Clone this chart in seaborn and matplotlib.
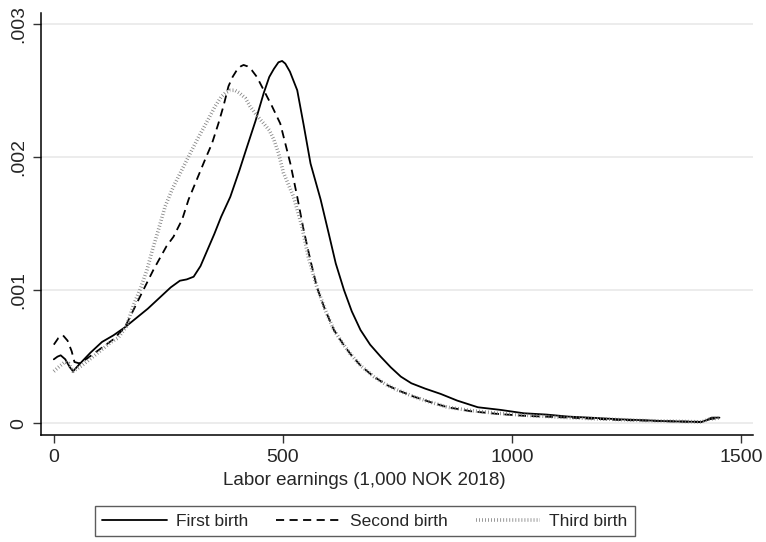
import pandas as pd
import matplotlib.pyplot as plt
import seaborn as sns

# density curves (x in 1,000 NOK, y in 1e-3)
first_x = [0, 8, 15, 25, 35, 42, 55, 80, 105, 130, 155, 180, 205, 230, 255, 275, 290, 305, 320, 335,
           350, 365, 385, 405, 420, 440, 458, 470, 480, 490, 498, 505, 515, 531, 545, 560, 582, 600, 615, 633,
           650, 669, 690, 713, 735, 757, 780, 810, 844, 880, 925, 975, 1025, 1075, 1122, 1180, 1231, 1290, 1340, 1380,
           1413, 1425, 1435, 1452]
first_y = [0.48, 0.50, 0.51, 0.48, 0.42, 0.39, 0.44, 0.53, 0.61, 0.66, 0.72, 0.79, 0.86, 0.94, 1.02, 1.07, 1.08, 1.10, 1.18, 1.30,
           1.42, 1.55, 1.70, 1.90, 2.06, 2.27, 2.48, 2.60, 2.66, 2.71, 2.72, 2.70, 2.64, 2.50, 2.24, 1.95, 1.68, 1.42, 1.20, 1.00,
           0.84, 0.70, 0.59, 0.50, 0.42, 0.35, 0.30, 0.26, 0.22, 0.17, 0.12, 0.10, 0.075, 0.065, 0.05, 0.04, 0.03, 0.022, 0.015, 0.012,
           0.01, 0.025, 0.042, 0.042]

second_x = [0, 10, 20, 30, 39, 45, 55, 70, 90, 110, 130, 155, 188, 217, 246, 261, 280, 294, 312, 330,
            345, 359, 370, 381, 390, 399, 408, 414, 422, 432, 443, 458, 476, 494, 516, 531, 545, 560, 574, 592,
            611, 630, 647, 670, 698, 725, 749, 785, 820, 859, 910, 968, 1030, 1106, 1170, 1230, 1290, 1340, 1380, 1413,
            1430, 1452]
second_y = [0.59, 0.64, 0.66, 0.62, 0.54, 0.46, 0.45, 0.48, 0.53, 0.58, 0.63, 0.72, 0.95, 1.15, 1.33, 1.40, 1.53, 1.68, 1.83, 1.98,
            2.10, 2.25, 2.38, 2.53, 2.60, 2.65, 2.68, 2.69, 2.68, 2.65, 2.60, 2.50, 2.38, 2.25, 1.95, 1.70, 1.45, 1.22, 1.02, 0.85,
            0.70, 0.60, 0.52, 0.43, 0.35, 0.29, 0.25, 0.20, 0.16, 0.12, 0.09, 0.07, 0.055, 0.045, 0.035, 0.025, 0.02, 0.015, 0.012, 0.01,
            0.03, 0.04]

third_x = [0, 10, 24, 32, 42, 60, 93, 125, 140, 159, 173, 190, 203, 215, 228, 243, 260, 279, 298, 316,
           335, 352, 365, 374, 385, 395, 405, 418, 428, 443, 458, 470, 480, 490, 501, 512, 523, 532, 541, 555,
           574, 592, 611, 630, 647, 670, 698, 725, 749, 785, 820, 859, 910, 968, 1030, 1106, 1170, 1230, 1290, 1340,
           1380, 1413, 1430, 1452]
third_y = [0.39, 0.42, 0.46, 0.45, 0.39, 0.43, 0.52, 0.61, 0.64, 0.73, 0.88, 1.02, 1.15, 1.30, 1.45, 1.63, 1.77, 1.90, 2.03, 2.15,
           2.27, 2.38, 2.45, 2.48, 2.50, 2.50, 2.48, 2.44, 2.38, 2.31, 2.25, 2.20, 2.13, 2.03, 1.88, 1.79, 1.70, 1.59, 1.48, 1.25,
           1.02, 0.85, 0.70, 0.60, 0.52, 0.43, 0.35, 0.29, 0.25, 0.20, 0.16, 0.12, 0.095, 0.075, 0.06, 0.045, 0.035, 0.028, 0.02, 0.016,
           0.013, 0.01, 0.03, 0.04]

labels = ["First birth", "Second birth", "Third birth"]
x_ticks = [0, 500, 1000, 1500]
y_ticks = [0, 0.001, 0.002, 0.003]
y_ticklabels = ["0", ".001", ".002", ".003"]

sns.set_style("ticks")
plt.rcParams["font.family"] = ["Liberation Sans", "DejaVu Sans"]

fig = plt.figure(figsize=(7.66, 5.42), dpi=100)
ax = fig.add_axes([0.0535, 0.197, 0.93, 0.779])

series = [(first_x, first_y), (second_x, second_y), (third_x, third_y)]
styles = [
    dict(color="black", lw=1.3, linestyle="-"),
    dict(color="black", lw=1.3, linestyle=(0, (4.5, 3))),
    dict(color="#808080", lw=2.6, linestyle=(0, (0.22, 0.62)), dash_capstyle="butt"),
]
for (xs, ys), lab, st in zip(series, labels, styles):
    df = pd.DataFrame({"x": xs, "y": [v / 1000 for v in ys]})
    sns.lineplot(data=df, x="x", y="y", ax=ax, label=lab, estimator=None, **st)

ax.set_xlim(-28, 1526)
ax.set_ylim(-0.00009, 0.00308)
ax.set_xticks(x_ticks)
ax.set_xticklabels([str(t) for t in x_ticks], fontsize=14)
ax.set_yticks(y_ticks)
ax.set_yticklabels(y_ticklabels, fontsize=14, rotation=90, va="center")
ax.grid(axis="y", color="#eaeaea", lw=1.3)
ax.set_axisbelow(True)
ax.tick_params(direction="out", length=6, width=1, color="#333333", pad=4)
sns.despine(ax=ax)
for sp in ["left", "bottom"]:
    ax.spines[sp].set_linewidth(1.1)
    ax.spines[sp].set_color("black")

ax.set_xlabel("Labor earnings (1,000 NOK 2018)", fontsize=13.5)
ax.xaxis.set_label_coords(0.4537, -0.088)
ax.set_ylabel("")

handles, labs = ax.get_legend_handles_labels()
ax.get_legend().remove()
leg = fig.legend(handles, labs, loc="center", bbox_to_anchor=(365 / 766, 1 - 521 / 542), ncol=3,
                 fontsize=12.5, frameon=True, fancybox=False, handlelength=3.7, handletextpad=0.55,
                 columnspacing=1.6, borderpad=0.45)
leg.get_frame().set_edgecolor("#333333")
leg.get_frame().set_linewidth(1.0)

fig.savefig("out.png", dpi=100)
